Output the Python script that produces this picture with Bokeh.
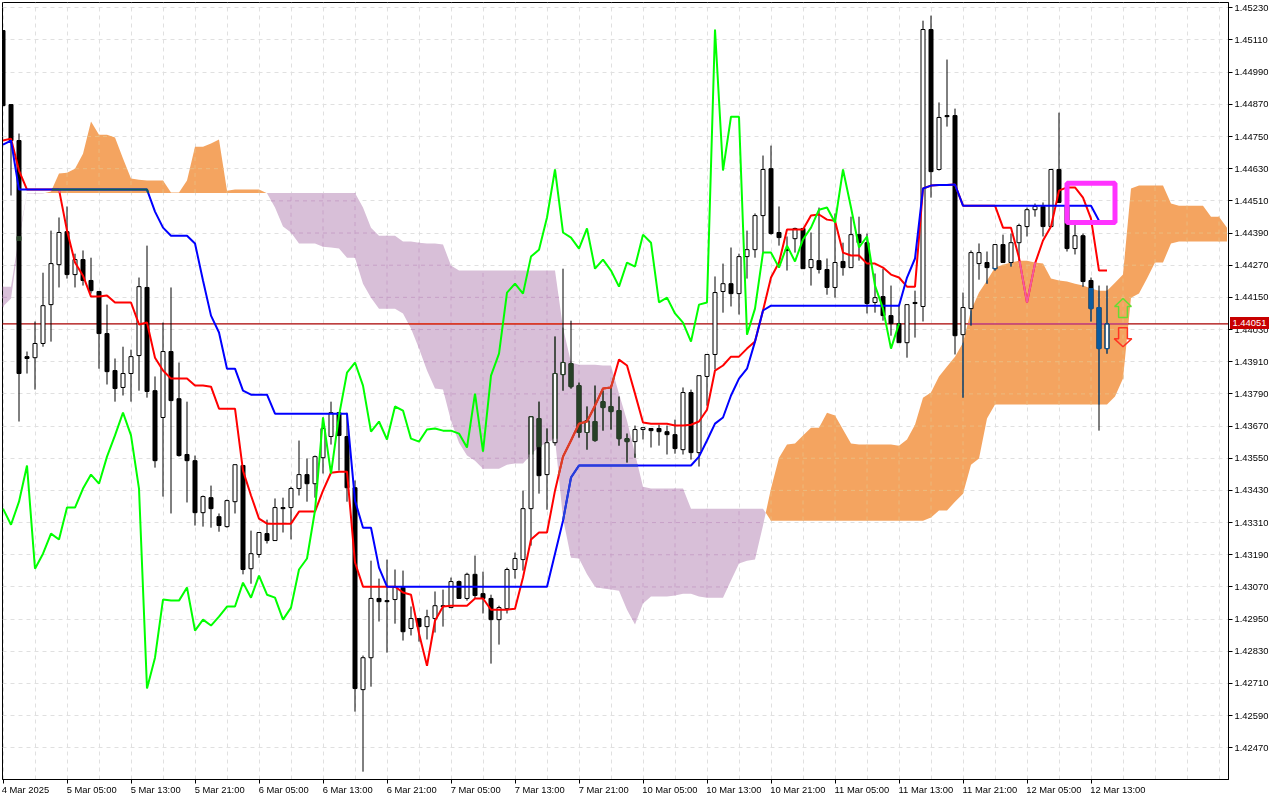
import math
import numpy as np
from bokeh.plotting import figure
from bokeh.embed import file_html
from bokeh.layouts import column
from bokeh.resources import INLINE
from bokeh.models import (LinearAxis, FixedTicker, Grid, Div, Range1d, PrintfTickFormatter)

# ---- candles, one per hour -------------------------------------------------
OPEN = [1.45145,1.44869,1.44735,1.43929,1.43925,1.43978,1.44123,1.44272,1.44395,1.44235,1.44291,1.44213,1.44172,1.44015,1.43877,1.43814,1.43866,1.43933,1.44187,1.43802,1.43702,1.43948,1.43772,1.43564,1.43541,1.43347,1.43403,1.43332,1.43295,1.43388,1.43523,1.43138,1.43191,1.43269,1.43243,1.43366,1.43366,1.43437,1.43489,1.43455,1.43552,1.43631,1.43720,1.43631,1.43440,1.42687,1.42806,1.43027,1.43019,1.43023,1.43068,1.42915,1.42952,1.42922,1.42952,1.43000,1.42993,1.43090,1.43027,1.43117,1.43045,1.43027,1.42948,1.42989,1.43135,1.43172,1.43362,1.43698,1.43489,1.43608,1.43862,1.43903,1.43821,1.43646,1.43687,1.43761,1.43743,1.43728,1.43623,1.43612,1.43657,1.43661,1.43661,1.43649,1.43638,1.43582,1.43795,1.43571,1.43855,1.43937,1.44172,1.44201,1.44164,1.44302,1.44328,1.44455,1.44630,1.44392,1.44328,1.44369,1.44407,1.44261,1.44287,1.44254,1.44187,1.44284,1.44261,1.44384,1.44354,1.44131,1.44153,1.44082,1.44052,1.43981,1.44131,1.44116,1.45149,1.44627,1.44828,1.44828,1.44011,1.44108,1.44276,1.44280,1.44257,1.44347,1.44280,1.44354,1.44414,1.44477,1.44489,1.44414,1.44627,1.44489,1.44332,1.44380,1.44213,1.44112,1.43959]
HIGH = [1.45145,1.44869,1.44761,1.43948,1.44060,1.44242,1.44399,1.44448,1.44489,1.44313,1.44325,1.44298,1.44172,1.44123,1.43922,1.43966,1.43955,1.44224,1.44343,1.43855,1.44056,1.44187,1.43907,1.43761,1.43560,1.43411,1.43448,1.43344,1.43396,1.43526,1.43523,1.43280,1.43273,1.43321,1.43400,1.43403,1.43444,1.43616,1.43549,1.43560,1.43702,1.43761,1.43720,1.43720,1.43467,1.42814,1.43168,1.43101,1.43172,1.43135,1.43131,1.42997,1.42952,1.42985,1.43053,1.43060,1.43105,1.43094,1.43123,1.43187,1.43127,1.43041,1.43000,1.43142,1.43198,1.43429,1.43705,1.43761,1.43661,1.44004,1.44257,1.44063,1.43832,1.43743,1.43821,1.43802,1.43821,1.43780,1.43642,1.43672,1.43664,1.43661,1.43675,1.43672,1.43694,1.43814,1.43806,1.43858,1.43937,1.44228,1.44276,1.44336,1.44313,1.44399,1.44463,1.44679,1.44716,1.44489,1.44377,1.44410,1.44407,1.44392,1.44485,1.44295,1.44463,1.44354,1.44451,1.44451,1.44388,1.44239,1.44257,1.44194,1.44123,1.44123,1.44175,1.45182,1.45201,1.44877,1.45037,1.44854,1.44168,1.44325,1.44351,1.44321,1.44347,1.44384,1.44388,1.44425,1.44485,1.44500,1.44504,1.44627,1.44839,1.44489,1.44422,1.44388,1.44224,1.44194,1.44194]
LOW = [1.44865,1.44530,1.43687,1.43866,1.43806,1.43966,1.43985,1.44187,1.44220,1.44187,1.44194,1.44164,1.43884,1.43825,1.43761,1.43784,1.43761,1.43802,1.43776,1.43515,1.43407,1.43344,1.43556,1.43385,1.43299,1.43295,1.43291,1.43276,1.43291,1.43344,1.43117,1.43082,1.43179,1.43232,1.43243,1.43273,1.43247,1.43411,1.43388,1.43403,1.43493,1.43601,1.43504,1.43388,1.42605,1.42381,1.42698,1.42941,1.42825,1.42933,1.42870,1.42889,1.42866,1.42874,1.42900,1.42922,1.42993,1.43027,1.43019,1.43027,1.42971,1.42784,1.42855,1.42971,1.43101,1.43131,1.43224,1.43418,1.43358,1.43597,1.43802,1.43810,1.43627,1.43582,1.43612,1.43653,1.43657,1.43597,1.43534,1.43552,1.43620,1.43590,1.43597,1.43564,1.43567,1.43564,1.43545,1.43519,1.43746,1.43881,1.44093,1.44116,1.44086,1.44220,1.44298,1.44317,1.44384,1.44343,1.44250,1.44317,1.44257,1.44194,1.44239,1.44160,1.44149,1.44231,1.44261,1.44287,1.44090,1.44093,1.44063,1.44007,1.43981,1.43925,1.44000,1.44060,1.44522,1.44623,1.44787,1.43937,1.43776,1.44045,1.44216,1.44201,1.44250,1.44280,1.44265,1.44287,1.44377,1.44451,1.44377,1.44414,1.44504,1.44321,1.44310,1.44190,1.44060,1.43653,1.43940]
CLOSE = [1.44865,1.44735,1.43866,1.43922,1.43978,1.44119,1.44276,1.44392,1.44235,1.44291,1.44213,1.44175,1.44015,1.43873,1.43810,1.43866,1.43929,1.44190,1.43799,1.43541,1.43948,1.43765,1.43560,1.43541,1.43347,1.43407,1.43362,1.43299,1.43392,1.43526,1.43135,1.43194,1.43273,1.43243,1.43366,1.43362,1.43437,1.43489,1.43455,1.43556,1.43661,1.43720,1.43635,1.43440,1.42691,1.42806,1.43027,1.43015,1.43015,1.43068,1.42903,1.42952,1.42922,1.42959,1.43000,1.42997,1.43090,1.43027,1.43117,1.43038,1.43027,1.42948,1.42993,1.43135,1.43176,1.43362,1.43705,1.43485,1.43608,1.43866,1.43907,1.43817,1.43646,1.43690,1.43616,1.43739,1.43724,1.43623,1.43612,1.43657,1.43664,1.43653,1.43649,1.43638,1.43586,1.43795,1.43571,1.43858,1.43937,1.44168,1.44201,1.44164,1.44302,1.44328,1.44455,1.44627,1.44388,1.44373,1.44325,1.44407,1.44257,1.44291,1.44254,1.44187,1.44280,1.44261,1.44384,1.44354,1.44127,1.44149,1.44082,1.44052,1.43981,1.44123,1.44127,1.45149,1.44619,1.44821,1.44824,1.44007,1.44112,1.44317,1.44317,1.44261,1.44347,1.44280,1.44354,1.44418,1.44477,1.44489,1.44414,1.44627,1.44504,1.44332,1.44380,1.44209,1.44108,1.43959,1.44051]

# ---- Ichimoku lines ---------------------------------------------------------
TENKAN = [1.44735,1.44742,1.44623,1.44552,1.44552,1.44552,1.44552,1.44552,1.44399,1.44280,1.44231,1.44153,1.44153,1.44157,1.44131,1.44131,1.44131,1.44049,1.44056,1.43925,1.43877,1.43847,1.43847,1.43847,1.43821,1.43821,1.43817,1.43735,1.43735,1.43735,1.43504,1.43411,1.43325,1.43306,1.43306,1.43306,1.43306,1.43351,1.43351,1.43351,1.43429,1.43496,1.43500,1.43500,1.43161,1.43071,1.43071,1.43071,1.43071,1.43071,1.43049,1.43041,1.42896,1.42776,1.42944,1.42997,1.43000,1.43000,1.43000,1.43027,1.43027,1.42985,1.42985,1.42985,1.42989,1.43105,1.43247,1.43273,1.43273,1.43429,1.43556,1.43616,1.43679,1.43687,1.43746,1.43810,1.43814,1.43918,1.43896,1.43791,1.43683,1.43679,1.43679,1.43679,1.43672,1.43672,1.43675,1.43687,1.43731,1.43877,1.43896,1.43929,1.43929,1.43959,1.43985,1.44101,1.44224,1.44280,1.44403,1.44403,1.44403,1.44455,1.44459,1.44440,1.44436,1.44317,1.44306,1.44306,1.44276,1.44276,1.44261,1.44235,1.44224,1.44190,1.44190,1.44556,1.44567,1.44569,1.44569,1.44571,1.44492,1.44492,1.44492,1.44492,1.44492,1.44410,1.44410,1.44298,1.44131,1.44276,1.44362,1.44414,1.44548,1.44560,1.44560,1.44522,1.44444,1.44250,1.44250]
KIJUN = [1.44720,1.44735,1.44552,1.44552,1.44552,1.44552,1.44552,1.44552,1.44552,1.44552,1.44552,1.44552,1.44552,1.44552,1.44552,1.44552,1.44552,1.44552,1.44552,1.44470,1.44410,1.44380,1.44380,1.44380,1.44351,1.44213,1.44082,1.44019,1.43884,1.43884,1.43802,1.43787,1.43787,1.43787,1.43716,1.43716,1.43716,1.43716,1.43716,1.43716,1.43716,1.43716,1.43716,1.43716,1.43392,1.43291,1.43291,1.43142,1.43071,1.43071,1.43071,1.43071,1.43071,1.43071,1.43071,1.43071,1.43071,1.43071,1.43071,1.43071,1.43071,1.43071,1.43071,1.43071,1.43071,1.43071,1.43071,1.43071,1.43071,1.43194,1.43317,1.43478,1.43523,1.43523,1.43523,1.43523,1.43523,1.43523,1.43523,1.43523,1.43523,1.43523,1.43523,1.43523,1.43523,1.43523,1.43523,1.43556,1.43616,1.43679,1.43702,1.43784,1.43847,1.43884,1.43985,1.44101,1.44119,1.44119,1.44119,1.44119,1.44119,1.44119,1.44119,1.44119,1.44119,1.44119,1.44119,1.44119,1.44119,1.44119,1.44119,1.44119,1.44119,1.44224,1.44295,1.44556,1.44567,1.44569,1.44569,1.44571,1.44492,1.44492,1.44492,1.44492,1.44492,1.44492,1.44492,1.44492,1.44492,1.44492,1.44492,1.44492,1.44492,1.44492,1.44492,1.44492,1.44492,1.44436,1.44433]
CHIKOU = [1.43362,1.43302,1.43388,1.43523,1.43138,1.43194,1.43269,1.43247,1.43366,1.43366,1.43437,1.43489,1.43455,1.43556,1.43635,1.43720,1.43635,1.43437,1.42691,1.42806,1.43023,1.43019,1.43019,1.43068,1.42907,1.42948,1.42926,1.42959,1.42997,1.42997,1.43086,1.43030,1.43112,1.43041,1.43030,1.42948,1.42993,1.43135,1.43176,1.43355,1.43702,1.43493,1.43709,1.43869,1.43907,1.43821,1.43649,1.43687,1.43620,1.43743,1.43728,1.43623,1.43612,1.43657,1.43661,1.43653,1.43653,1.43642,1.43590,1.43791,1.43575,1.43858,1.43940,1.44168,1.44201,1.44164,1.44302,1.44328,1.44448,1.44627,1.44392,1.44373,1.44332,1.44407,1.44257,1.44291,1.44250,1.44190,1.44280,1.44265,1.44384,1.44354,1.44131,1.44149,1.44090,1.44056,1.43985,1.44123,1.44131,1.45149,1.44623,1.44824,1.44824,1.44011,1.44108,1.44317,1.44317,1.44261,1.44343,1.44284,1.44366,1.44410,1.44477,1.44485,1.44429,1.44627,1.44485,1.44336,1.44377,1.44194,1.44108,1.43959,1.44052]
SPAN_A = [1.44116,1.44146,1.44362,1.44537,1.44537,1.44537,1.44545,1.44612,1.44615,1.44630,1.44686,1.44806,1.44757,1.44757,1.44746,1.44668,1.44593,1.44589,1.44586,1.44586,1.44586,1.44541,1.44541,1.44586,1.44712,1.44712,1.44724,1.44739,1.44548,1.44552,1.44552,1.44552,1.44552,1.44538,1.44485,1.44414,1.44392,1.44351,1.44351,1.44351,1.44339,1.44336,1.44332,1.44298,1.44298,1.44201,1.44149,1.44108,1.44108,1.44108,1.44090,1.44034,1.43959,1.43877,1.43810,1.43806,1.43690,1.43608,1.43560,1.43541,1.43511,1.43511,1.43511,1.43526,1.43530,1.43530,1.43564,1.43593,1.43608,1.43623,1.43325,1.43179,1.43176,1.43117,1.43071,1.43064,1.43060,1.43056,1.42985,1.42930,1.43008,1.43034,1.43034,1.43034,1.43038,1.43045,1.43045,1.43034,1.43030,1.43030,1.43030,1.43094,1.43157,1.43168,1.43172,1.43299,1.43437,1.43552,1.43601,1.43605,1.43635,1.43664,1.43664,1.43720,1.43709,1.43657,1.43605,1.43601,1.43601,1.43601,1.43601,1.43601,1.43597,1.43620,1.43675,1.43776,1.43795,1.43855,1.43892,1.43929,1.43981,1.44101,1.44168,1.44213,1.44261,1.44272,1.44280,1.44287,1.44287,1.44280,1.44276,1.44220,1.44213,1.44209,1.44201,1.44194,1.44183,1.44175,1.44175,1.44205,1.44235,1.44556,1.44567,1.44567,1.44567,1.44567,1.44500,1.44492,1.44492,1.44492,1.44492,1.44451,1.44451,1.44410]
SPAN_B = [1.44190,1.44190,1.44377,1.44539,1.44539,1.44539,1.44539,1.44539,1.44539,1.44539,1.44539,1.44539,1.44539,1.44539,1.44539,1.44539,1.44539,1.44539,1.44539,1.44539,1.44539,1.44539,1.44539,1.44539,1.44539,1.44539,1.44539,1.44539,1.44539,1.44539,1.44539,1.44539,1.44539,1.44539,1.44539,1.44539,1.44539,1.44539,1.44539,1.44539,1.44539,1.44539,1.44539,1.44539,1.44539,1.44485,1.44410,1.44380,1.44380,1.44380,1.44358,1.44358,1.44354,1.44351,1.44351,1.44347,1.44269,1.44250,1.44250,1.44250,1.44250,1.44250,1.44250,1.44250,1.44250,1.44250,1.44250,1.44250,1.44250,1.44250,1.44037,1.43907,1.43899,1.43899,1.43899,1.43896,1.43896,1.43791,1.43690,1.43567,1.43444,1.43437,1.43437,1.43437,1.43437,1.43437,1.43362,1.43362,1.43362,1.43362,1.43362,1.43362,1.43362,1.43362,1.43362,1.43362,1.43317,1.43317,1.43317,1.43317,1.43317,1.43317,1.43317,1.43317,1.43317,1.43317,1.43317,1.43317,1.43317,1.43317,1.43317,1.43317,1.43317,1.43317,1.43317,1.43317,1.43329,1.43355,1.43355,1.43388,1.43418,1.43526,1.43549,1.43698,1.43750,1.43750,1.43750,1.43750,1.43750,1.43750,1.43750,1.43750,1.43750,1.43750,1.43750,1.43750,1.43750,1.43750,1.43750,1.43780,1.43847,1.44149,1.44164,1.44220,1.44280,1.44280,1.44351,1.44358,1.44358,1.44358,1.44358,1.44358,1.44358,1.44358]

LAST_PRICE = 1.44051
PRICE_TICKS = [1.45230,1.45110,1.44990,1.44870,1.44750,1.44630,1.44510,1.44390,1.44270,1.44150,1.44030,1.43910,1.43790,1.43670,1.43550,1.43430,1.43310,1.43190,1.43070,1.42950,1.42830,1.42710,1.42590,1.42470]
TIME_LABELS = ["4 Mar 2025","5 Mar 05:00","5 Mar 13:00","5 Mar 21:00","6 Mar 05:00","6 Mar 13:00","6 Mar 21:00","7 Mar 05:00","7 Mar 13:00","7 Mar 21:00","10 Mar 05:00","10 Mar 13:00","10 Mar 21:00","11 Mar 05:00","11 Mar 13:00","11 Mar 21:00","12 Mar 05:00","12 Mar 13:00"]

assert len(OPEN) == len(HIGH) == len(LOW) == len(CLOSE) == 139, (len(OPEN), len(HIGH), len(LOW), len(CLOSE))
assert len(TENKAN) == len(KIJUN) == 139, (len(TENKAN), len(KIJUN))
assert len(CHIKOU) == 113, len(CHIKOU)
assert len(SPAN_A) == len(SPAN_B) == 154, (len(SPAN_A), len(SPAN_B))

ORANGE, THISTLE = "#F4A460", "#D8BFD8"
idx = np.arange(139)
cx = np.arange(154)
A, B = np.array(SPAN_A), np.array(SPAN_B)


def xor(fg, fill):
    """Colour of fg where the terminal has XOR-painted the cloud colour."""
    f = int(fg[1:], 16) ^ (int(fill[1:], 16) ^ 0xFFFFFF)
    return "#%06X" % f


def cloud_at(x, y):
    a, b = np.interp(x, cx, A), np.interp(x, cx, B)
    if x > 153.5 or not (min(a, b) < y < max(a, b)):
        return None
    return ORANGE if a > b else THISTLE


def runs(xs, ys, steps=40):
    """Split a polyline in stretches by the cloud colour lying under them."""
    out, cur, kind = [], ([], []), None
    for k in range(len(xs) - 1):
        for s in range(steps):
            t0, t1 = s / steps, (s + 1) / steps
            x0, x1 = xs[k] + (xs[k + 1] - xs[k]) * t0, xs[k] + (xs[k + 1] - xs[k]) * t1
            y0, y1 = ys[k] + (ys[k + 1] - ys[k]) * t0, ys[k] + (ys[k + 1] - ys[k]) * t1
            c = cloud_at((x0 + x1) / 2, (y0 + y1) / 2)
            if c != kind:
                if kind and cur[0]:
                    out.append((kind, cur))
                cur, kind = ([], []), c
            if c:
                if not cur[0]:
                    cur[0].append(x0); cur[1].append(y0)
                cur[0].append(x1); cur[1].append(y1)
    if kind and cur[0]:
        out.append((kind, cur))
    return out


p = figure(width=1280, height=800, output_backend="svg", toolbar_location=None,
           x_axis_type=None, y_axis_type=None, background_fill_color="white",
           border_fill_color="white",
           x_range=Range1d(-0.0625, 153.1875), y_range=Range1d(1.423518, 1.452498),
           min_border_left=2, min_border_top=2, min_border_right=52, min_border_bottom=21)
p.styles = {"position": "fixed", "left": "0px", "top": "0px"}
p.outline_line_color = "black"
p.outline_line_width = 1
p.grid.visible = False

FONT = "Liberation Sans"
yaxis = LinearAxis(ticker=FixedTicker(ticks=PRICE_TICKS), formatter=PrintfTickFormatter(format="%.5f"),
                   major_tick_in=0, major_tick_out=4, minor_tick_out=0, minor_tick_in=0,
                   major_label_standoff=2, major_label_text_font=FONT, major_label_text_font_size="9.4px",
                   major_label_text_color="black", axis_line_color="black", major_tick_line_color="black")
p.add_layout(yaxis, "right")

tick_pos = [i * 8 for i in range(len(TIME_LABELS))]
axis_ticks = LinearAxis(ticker=FixedTicker(ticks=tick_pos), major_label_overrides={t: "" for t in tick_pos},
                        major_tick_in=0, major_tick_out=4, minor_tick_out=0, minor_tick_in=0,
                        major_label_standoff=0, major_label_text_font_size="1px",
                        axis_line_color="black", major_tick_line_color="black")
p.add_layout(axis_ticks, "below")
# MetaTrader starts each time label at its tick: centre the text half a label further on
label_pos = [round(t + len(s) * 0.28, 2) for t, s in zip(tick_pos, TIME_LABELS)]
axis_labels = LinearAxis(ticker=FixedTicker(ticks=label_pos),
                         major_label_overrides=dict(zip(label_pos, TIME_LABELS)),
                         major_tick_in=0, major_tick_out=0, minor_tick_out=0, minor_tick_in=0,
                         major_label_standoff=0, major_label_text_font=FONT, major_label_text_font_size="9.4px",
                         major_label_text_color="black", axis_line_color=None, major_tick_line_color=None)
p.add_layout(axis_labels, "below")

GRID = "#E0E0E0"
v_grid = list(range(0, 154, 4))
p.add_layout(Grid(dimension=0, ticker=FixedTicker(ticks=v_grid), grid_line_color=GRID, grid_line_dash="4 4"))
p.add_layout(Grid(dimension=1, ticker=FixedTicker(ticks=PRICE_TICKS), grid_line_color=GRID, grid_line_dash="4 4"))

# ---- the cloud: split where the two spans cross -----------------------------
seg_x, seg_a, seg_b = [0.0], [A[0]], [B[0]]
for i in range(153):
    d0, d1 = A[i] - B[i], A[i + 1] - B[i + 1]
    if d0 * d1 < 0:
        t = d0 / (d0 - d1)
        xc = i + t
        yc = A[i] + (A[i + 1] - A[i]) * t
        seg_x.append(xc); seg_a.append(yc); seg_b.append(yc)
        p.varea(seg_x, seg_a, seg_b, fill_color=ORANGE if d0 > 0 else THISTLE)
        seg_x, seg_a, seg_b = [xc], [yc], [yc]
    seg_x.append(float(i + 1)); seg_a.append(A[i + 1]); seg_b.append(B[i + 1])
p.varea(seg_x, seg_a, seg_b, fill_color=ORANGE if A[-1] > B[-1] else THISTLE)


def tinted(xs, ys, colour, width, dash="solid", steps=40):
    for fill, (rx, ry) in runs(xs, ys, steps):
        p.line(rx, ry, line_color=xor(colour, fill), line_width=width, line_dash=dash)


# grid seen through the cloud
for t in PRICE_TICKS:
    tinted([-1.0, 154.0], [t, t], GRID, 1, "4 4", steps=1240)
for v in v_grid:
    tinted([float(v), float(v)], [1.4235, 1.4525], GRID, 1, "4 4", steps=800)

# price line
p.line([-1, 154], [LAST_PRICE, LAST_PRICE], line_color="#A80000", line_width=1.2)
tinted([-1.0, 154.0], [LAST_PRICE, LAST_PRICE], "#C00000", 1.2, steps=1240)

# ---- candles -----------------------------------------------------------------
BODY = 0.5
O, H, L, C = map(np.array, (OPEN, HIGH, LOW, CLOSE))
top, bot = np.maximum(O, C), np.minimum(O, C)
p.segment(idx, L, idx, H, line_color="black", line_width=1)
p.vbar(x=idx, top=top, bottom=bot, width=BODY, line_color="black", line_width=1,
       fill_color=["white" if c > o else "black" for o, c in zip(OPEN, CLOSE)])

sx0, sy0, sx1, sy1, scol = [], [], [], [], []
bx, bt, bb, bcol = [], [], [], []
for i in idx:
    a, b = A[i], B[i]
    lo, hi = min(a, b), max(a, b)
    if lo == hi:
        continue
    fill = ORANGE if a > b else THISTLE
    tint = xor("#000000", fill)
    for w0, w1 in ((L[i], bot[i]), (top[i], H[i])):
        u0, u1 = max(w0, lo), min(w1, hi)
        if u1 > u0:
            sx0.append(i); sx1.append(i); sy0.append(u0); sy1.append(u1); scol.append(tint)
    u0, u1 = max(bot[i], lo), min(top[i], hi)
    if u1 > u0:
        if C[i] > O[i]:
            for side in (-BODY / 2, BODY / 2):
                sx0.append(i + side); sx1.append(i + side); sy0.append(u0); sy1.append(u1); scol.append(tint)
            for edge in (bot[i], top[i]):
                if lo < edge < hi:
                    sx0.append(i - BODY / 2); sx1.append(i + BODY / 2)
                    sy0.append(edge); sy1.append(edge); scol.append(tint)
        else:
            bx.append(i); bt.append(u1); bb.append(u0); bcol.append(tint)
if sx0:
    p.segment(sx0, sy0, sx1, sy1, line_color=scol, line_width=1)
if bx:
    p.vbar(x=bx, top=bt, bottom=bb, width=BODY, fill_color=bcol, line_color=bcol, line_width=1)

# ---- lines --------------------------------------------------------------------
p.line(idx, TENKAN, line_color="#FF0000", line_width=2)
tinted(list(map(float, idx)), TENKAN, "#FF0000", 2)
p.line(idx, KIJUN, line_color="#0000FF", line_width=2)
tinted(list(map(float, idx)), KIJUN, "#0000FF", 2)
p.line(np.arange(len(CHIKOU)), CHIKOU, line_color="#00FF00", line_width=2)

# ---- marks on the last bars ---------------------------------------------------
p.quad(left=[133], right=[139], top=[1.44576], bottom=[1.44429], fill_color=None,
       line_color="#FF33FF", line_width=5)
ARROW_BAR = 140
p.patch([ARROW_BAR, ARROW_BAR + 1.05, ARROW_BAR + 0.55, ARROW_BAR + 0.55, ARROW_BAR - 0.55, ARROW_BAR - 0.55, ARROW_BAR - 1.05],
        [1.44146, 1.44116, 1.44116, 1.44075, 1.44075, 1.44116, 1.44116],
        fill_color=None, line_color="#66DD33", line_width=1.5)
p.patch([ARROW_BAR, ARROW_BAR + 1.1, ARROW_BAR + 0.55, ARROW_BAR + 0.55, ARROW_BAR - 0.55, ARROW_BAR - 0.55, ARROW_BAR - 1.1],
        [1.43966, 1.43996, 1.43996, 1.44037, 1.44037, 1.43996, 1.43996],
        fill_color=None, line_color="#FF3322", line_width=1.5)

tag = Div(text="%.5f" % LAST_PRICE, width=39, height=12,
          styles={"position": "fixed", "left": "1230px", "top": "317px", "width": "39px", "height": "12px",
                  "background-color": "#C80000", "color": "white", "font-family": FONT, "font-size": "9.4px",
                  "line-height": "12px", "text-align": "center", "z-index": "10", "margin": "0", "padding": "0"})

open("out.html", "w").write(file_html(column(p, tag), INLINE))
